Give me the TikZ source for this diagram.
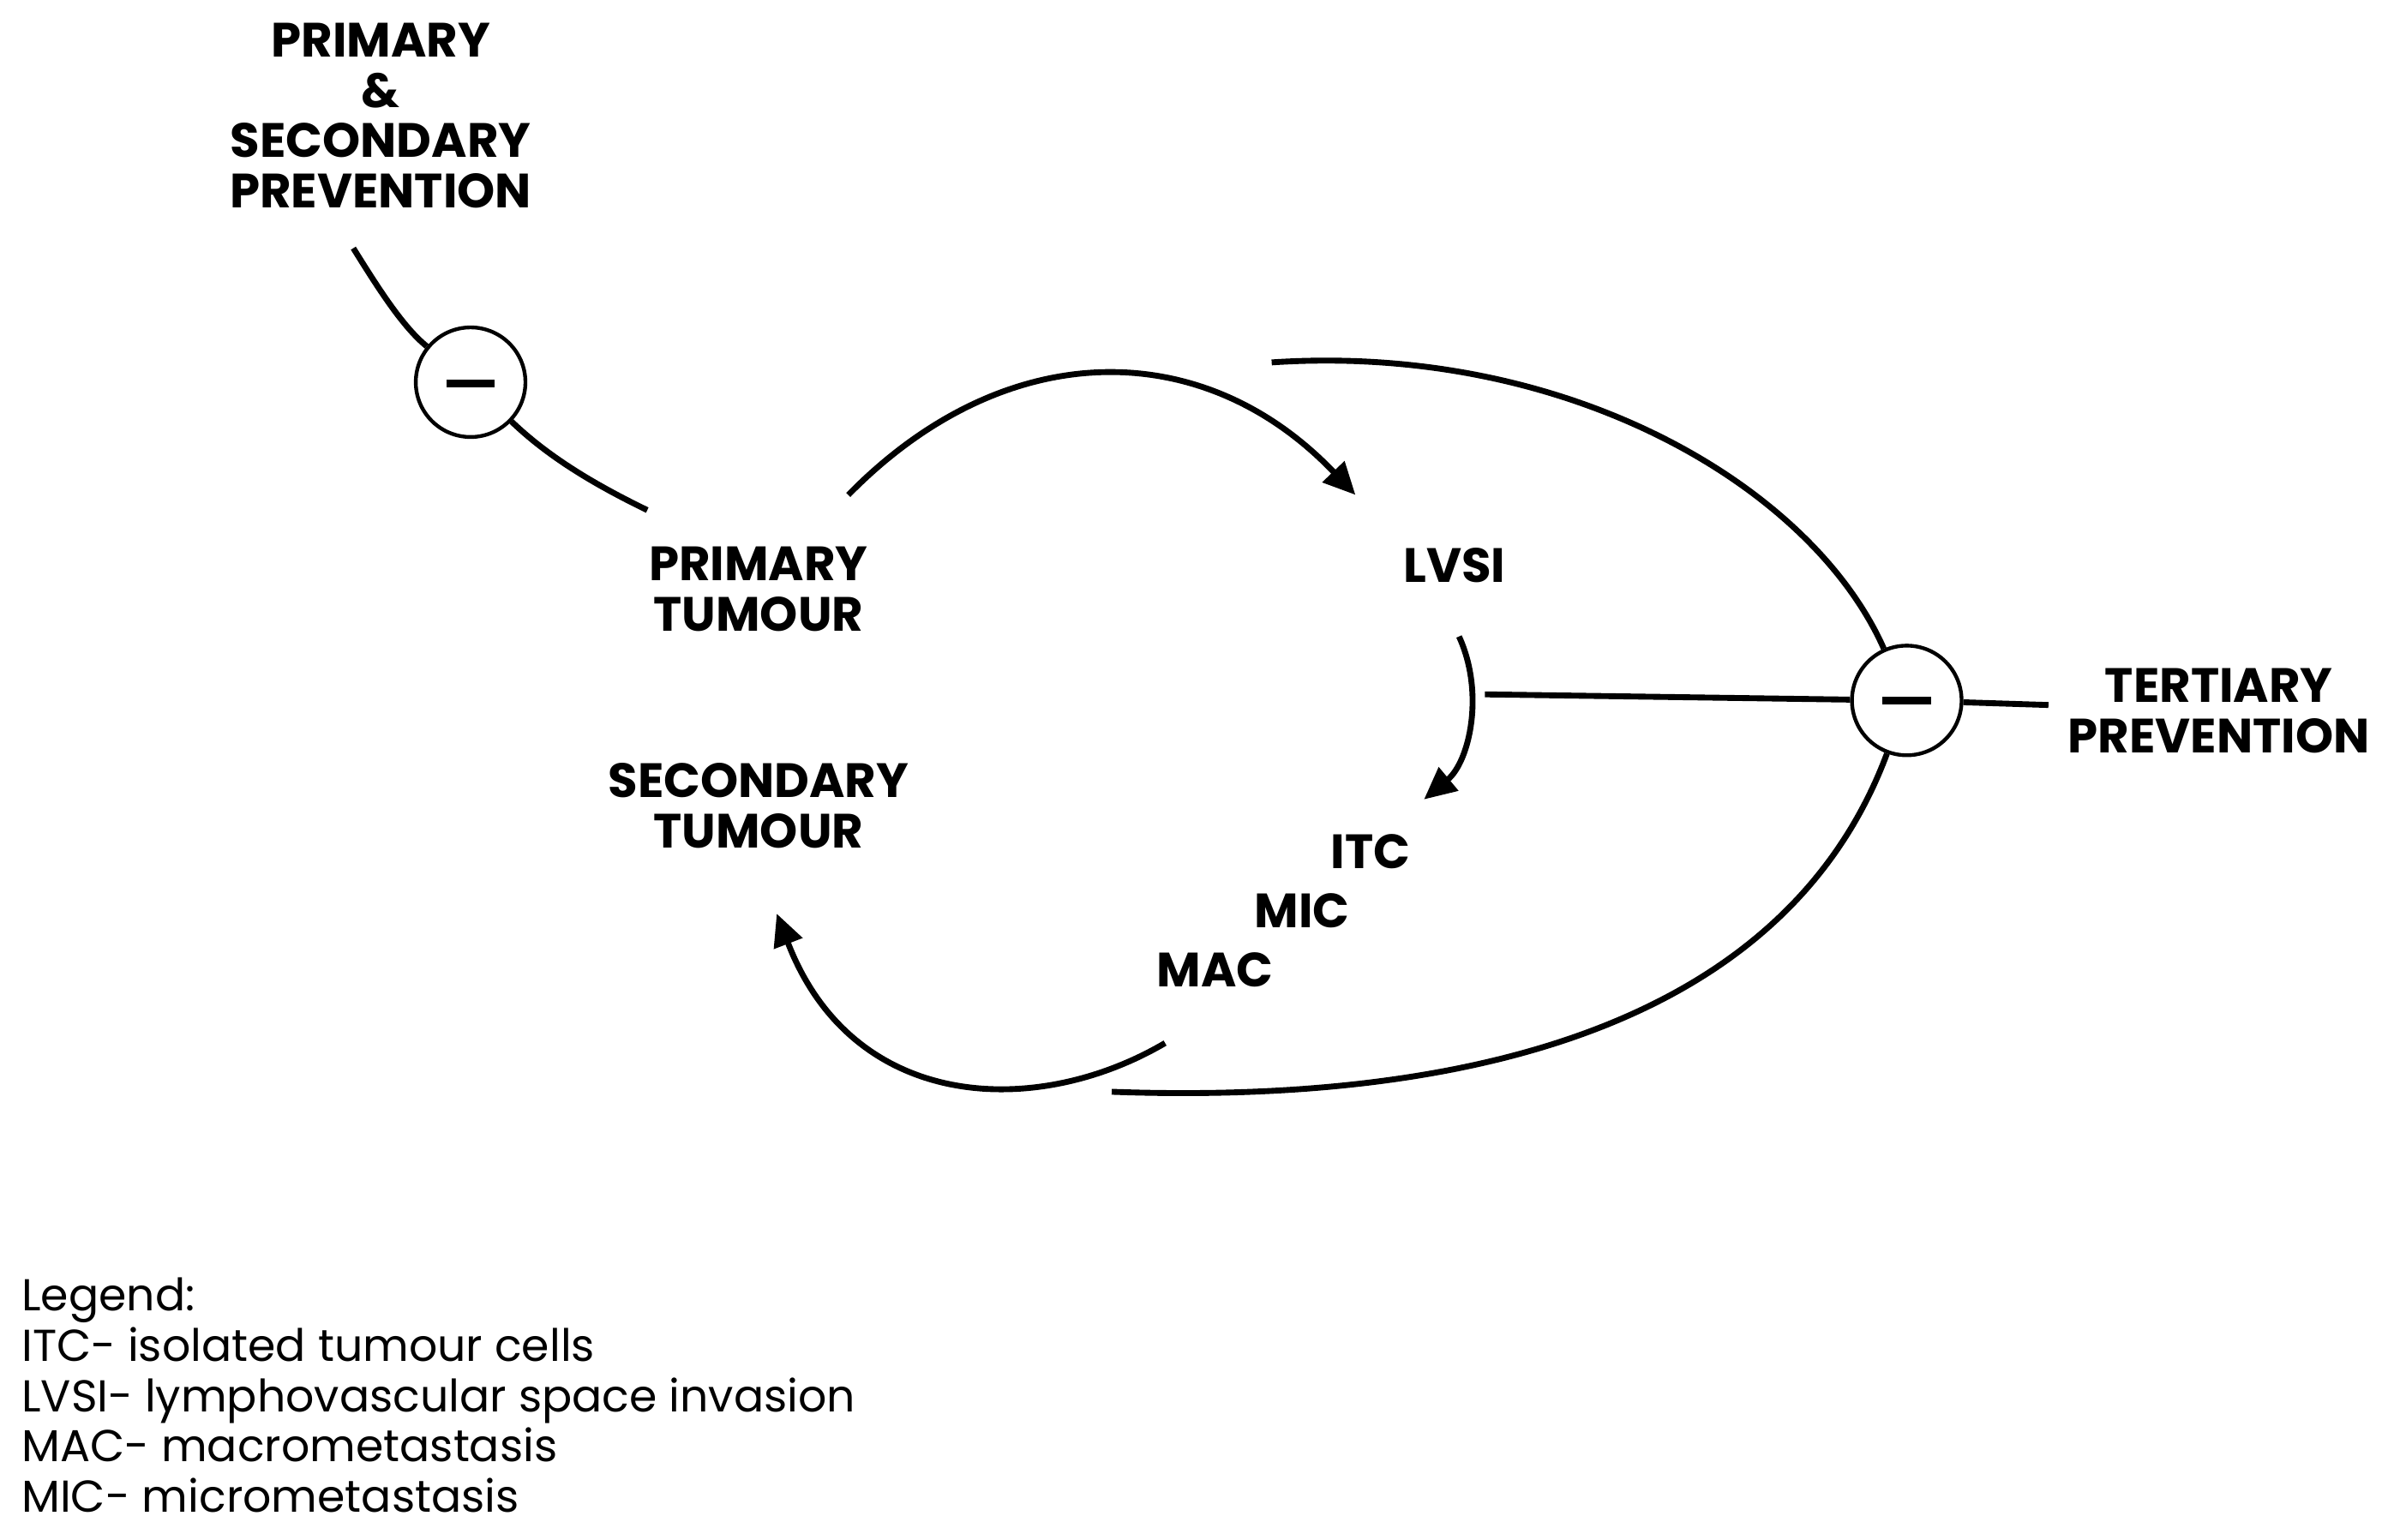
\documentclass[tikz,border=0pt]{standalone}
\usepackage{fontspec}
\setmainfont{Poppins}
\usetikzlibrary{arrows.meta}
\begin{document}
\begin{tikzpicture}[x=0.02cm,y=-0.02cm,
  lab/.style={font=\fontsize{18}{18.8}\selectfont\bfseries,align=center},
  leg/.style={font=\fontsize{16.7}{20}\selectfont,anchor=base west},
  ln/.style={line width=2.2pt},
  arr/.style={ln,-{Triangle[length=12pt,width=11pt]}},
  inh/.style={circle,draw,line width=1.4pt,inner sep=0pt,minimum size=1.44cm}]
\useasboundingbox (0,0) rectangle (1568,1011);
\node[lab] (psp) at (250,76) {PRIMARY\\\&\\SECONDARY\\PREVENTION};
\node[inh] (c1) at (309,251) {};
\draw[line width=3pt] (293,252) -- (325,252);
\node[lab] (pt) at (498,387) {PRIMARY\\TUMOUR};
\node[lab] (lvsi) at (955,371) {LVSI};
\node[lab] (st) at (498,529) {SECONDARY\\TUMOUR};
\node[lab] (itc) at (900,559) {ITC};
\node[lab] (mic) at (855,598) {MIC};
\node[lab] (mac) at (798,637) {MAC};
\node[lab] (tp) at (1457,467) {TERTIARY\\PREVENTION};
\node[inh] (c2) at (1252,460) {};
\draw[line width=3pt] (1236,460) -- (1268,460);
\coordinate (a1) at (232,163);
\coordinate (a2) at (425,335);
\draw[ln] (a1) .. controls (250,192) and (265,215) .. (c1);
\draw[ln] (c1) .. controls (360,300) and (390,318) .. (a2);
\coordinate (b1) at (557,325); \coordinate (b2) at (890,325);
\draw[arr] (b1) .. controls (660,220) and (790,220) .. (b2);
\coordinate (t1) at (835,238);
\draw[ln] (t1) .. controls (1030,225) and (1190,320) .. (c2);
\coordinate (t2) at (730,717);
\draw[ln] (c2) .. controls (1170,680) and (950,725) .. (t2);
\coordinate (h1) at (975,456);
\draw[ln] (h1) -- (c2);
\coordinate (h2) at (1345,463);
\draw[ln] (c2) -- (h2);
\coordinate (l1) at (958,418); \coordinate (l2) at (935,525);
\draw[arr] (l1) .. controls (975,455) and (965,500) .. (l2);
\coordinate (m1) at (765,685); \coordinate (m2) at (510,600);
\draw[arr] (m1) .. controls (680,735) and (560,730) .. (m2);
\node[leg] (lg1) at (8,861) {Legend:};
\node[leg] (lg2) at (8,894) {ITC- isolated tumour cells};
\node[leg] (lg3) at (8,927) {LVSI- lymphovascular space invasion};
\node[leg] (lg4) at (8,960) {MAC- macrometastasis};
\node[leg] (lg5) at (8,993) {MIC- micrometastasis};
\end{tikzpicture}
\end{document}
